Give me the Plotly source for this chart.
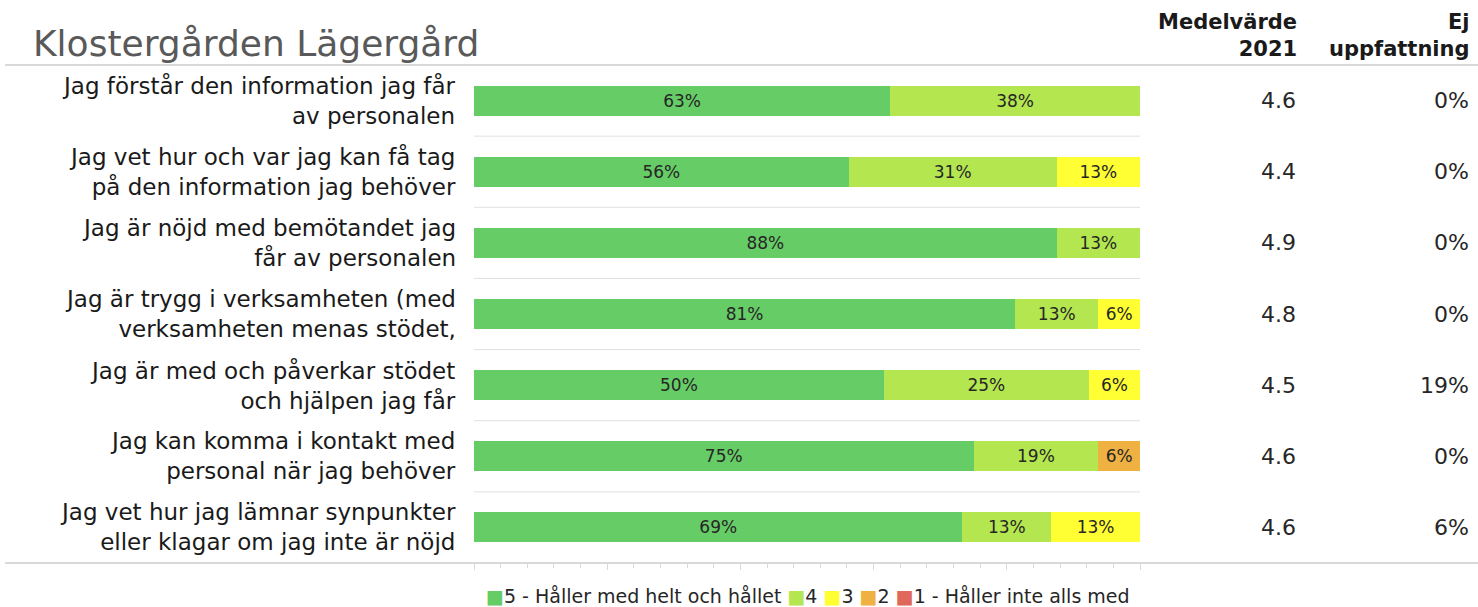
import plotly.graph_objects as go

title = "Klostergården Lägergård"
questions = [
    "Jag förstår den information jag får<br>av personalen",
    "Jag vet hur och var jag kan få tag<br>på den information jag behöver",
    "Jag är nöjd med bemötandet jag<br>får av personalen",
    "Jag är trygg i verksamheten (med<br>verksamheten menas stödet,",
    "Jag är med och påverkar stödet<br>och hjälpen jag får",
    "Jag kan komma i kontakt med<br>personal när jag behöver",
    "Jag vet hur jag lämnar synpunkter<br>eller klagar om jag inte är nöjd",
]
series_names = ["5 - Håller med helt och hållet", "4", "3", "2", "1 - Håller inte alls med"]
v5 = [62.5, 56.25, 87.5, 81.25, 50.0, 75.0, 68.75]
v4 = [37.5, 31.25, 12.5, 12.5, 25.0, 18.75, 12.5]
v3 = [0, 12.5, 0, 6.25, 6.25, 0, 12.5]
v2 = [0, 0, 0, 0, 0, 6.25, 0]
v1 = [0, 0, 0, 0, 0, 0, 0]
mean_2021 = ["4.6", "4.4", "4.9", "4.8", "4.5", "4.6", "4.6"]
ej_uppfattning = ["0%", "0%", "0%", "0%", "19%", "0%", "6%"]
colors = ["#66CC66", "#B3E64F", "#FFFF33", "#F0B143", "#E0685A"]

W, H = 1478, 607
L, R, T, B = 474, 1140, 65, 563
pw, ph = R - L, B - T
FONT = "DejaVu Sans"

def px(p):
    return (p - L) / pw

def py(q):
    return (B - q) / ph

fig = go.Figure()
for name, vals, col in zip(series_names, [v5, v4, v3, v2, v1], colors):
    fig.add_trace(go.Bar(
        y=questions, x=vals, name=name, orientation="h",
        marker=dict(color=col, line=dict(width=0)),
        text=[f"{round(v + 1e-9):.0f}%" if v > 0 else "" for v in vals],
        textposition="inside", insidetextanchor="middle", textangle=0,
        textfont=dict(family=FONT, size=17, color="#262626"),
        hoverinfo="skip", showlegend=False,
    ))

annotations = []
for i, q in enumerate(questions):
    annotations.append(dict(x=px(458), y=q, xref="paper", yref="y", text=q,
                            xanchor="right", yanchor="middle", align="right", showarrow=False,
                            font=dict(family=FONT, size=23, color="#1a1a1a")))
    annotations.append(dict(x=px(1298), y=q, xref="paper", yref="y", text=mean_2021[i],
                            xanchor="right", yanchor="middle", showarrow=False,
                            font=dict(family=FONT, size=22, color="#262626")))
    annotations.append(dict(x=px(1471), y=q, xref="paper", yref="y", text=ej_uppfattning[i],
                            xanchor="right", yanchor="middle", showarrow=False,
                            font=dict(family=FONT, size=22, color="#262626")))
annotations.append(dict(x=px(1299), y=py(36), xref="paper", yref="paper", text="<b>Medelvärde<br>2021</b>",
                        xanchor="right", yanchor="middle", align="right", showarrow=False,
                        font=dict(family=FONT, size=21, color="#1a1a1a")))
annotations.append(dict(x=px(1472), y=py(36), xref="paper", yref="paper", text="<b>Ej<br>uppfattning</b>",
                        xanchor="right", yanchor="middle", align="right", showarrow=False,
                        font=dict(family=FONT, size=21, color="#1a1a1a")))

legend_text = "".join(
    f'<span style="color:{c}">■</span>{n} ' for n, c in zip(series_names, colors)
).strip()
annotations.append(dict(x=px(808), y=py(596), xref="paper", yref="paper", text=legend_text,
                        xanchor="center", yanchor="middle", showarrow=False,
                        font=dict(family=FONT, size=19, color="#262626")))

shapes = [
    dict(type="line", xref="paper", yref="paper", x0=px(5), x1=px(1478), y0=py(65), y1=py(65),
         line=dict(color="#D9D9D9", width=2)),
    dict(type="line", xref="paper", yref="paper", x0=px(5), x1=px(1478), y0=0, y1=0,
         line=dict(color="#D9D9D9", width=2)),
]
for i in range(len(questions) - 1):
    shapes.append(dict(type="line", xref="x", yref="y", x0=0, x1=1, y0=i + 0.5, y1=i + 0.5,
                       line=dict(color="#E0E0E0", width=1)))

fig.update_layout(
    width=W, height=H,
    margin=dict(l=L, r=W - R, t=T, b=H - B, pad=0),
    barmode="stack", barnorm="fraction", bargap=0.58,
    paper_bgcolor="white", plot_bgcolor="white",
    title=dict(text=title, x=33 / W, xanchor="left", y=1 - 43 / H, yanchor="middle",
               font=dict(family=FONT, size=36, color="#595959")),
    xaxis=dict(range=[0, 1], showgrid=False, zeroline=False, showticklabels=False,
               ticks="outside", ticklen=6, tickcolor="#D9D9D9", dtick=0.2, tick0=0,
               minor=dict(ticks="outside", ticklen=4, tickcolor="#D9D9D9", dtick=0.04, showgrid=False),
               fixedrange=True),
    yaxis=dict(autorange="reversed", showticklabels=False, showgrid=False, zeroline=False,
               ticks="", fixedrange=True),
    showlegend=False,
    annotations=annotations,
    shapes=shapes,
)

fig.write_html("out.html", config={"displayModeBar": False},
               post_script="document.body.style.margin='0';document.body.style.overflow='hidden';")
